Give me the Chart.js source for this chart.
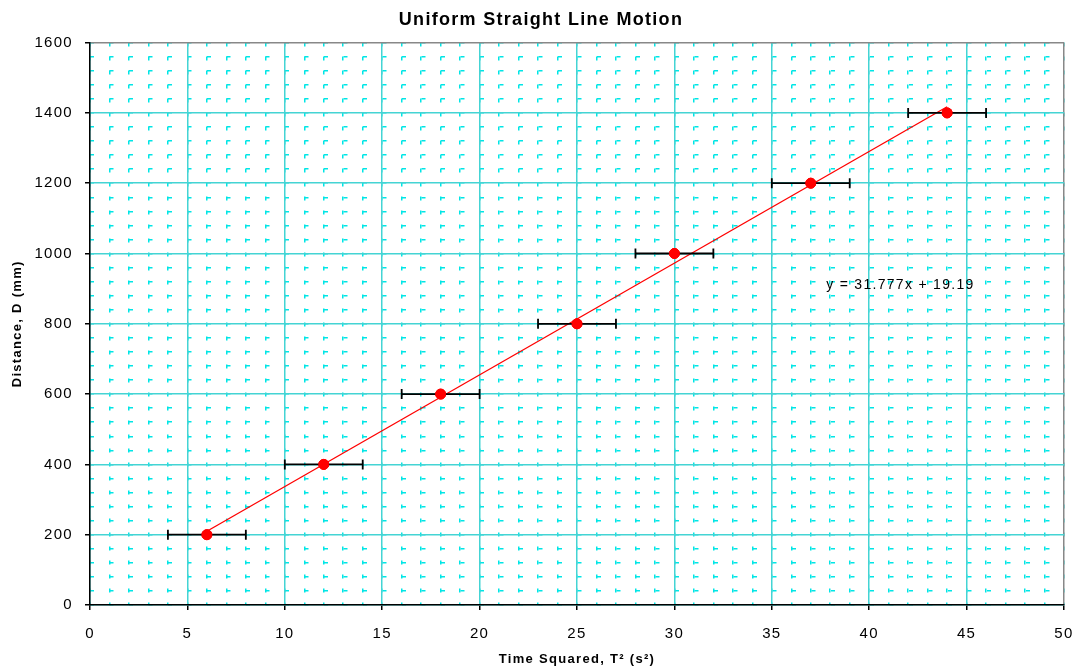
<!DOCTYPE html>
<html><head><meta charset="utf-8">
<script src="https://cdn.jsdelivr.net/npm/chart.js@4/dist/chart.umd.min.js"></script>
<style>html,body{margin:0;padding:0;background:#fff}#wrap{width:1075px;height:671px}</style>
</head><body><div id="wrap"><canvas id="c" width="1075" height="671"></canvas></div>
<script>
const timeSquared = [6, 12, 18, 25, 30, 37, 44];
const distance = [200, 400, 600, 800, 1000, 1200, 1400];
const xError = [2, 2, 2, 2, 2, 2, 2];
const slope = 31.777;
const intercept = 19.19;
const trendX = [6, 44];
const equationText = 'y = 31.777x + 19.19';
const equationPos = [41.6, 910];

const FONT = 'Liberation Sans, Arial, sans-serif';
const CYAN = '#44d4d4';
const MINOR = '#00e6e6';

const points = timeSquared.map((x, i) => ({x, y: distance[i]}));
const trend = trendX.map(x => ({x, y: slope * x + intercept}));

const spacing = {
  id: 'spacing',
  beforeDraw(chart) { chart.ctx.letterSpacing = '1.3px'; }
};

const errorBars = {
  id: 'errorBars',
  afterDatasetsDraw(chart) {
    const ctx = chart.ctx, xs = chart.scales.x, ys = chart.scales.y;
    ctx.save();
    ctx.strokeStyle = '#000'; ctx.lineWidth = 1.8;
    timeSquared.forEach((x, i) => {
      const y = ys.getPixelForValue(distance[i]);
      const x1 = xs.getPixelForValue(x - xError[i]), x2 = xs.getPixelForValue(x + xError[i]);
      ctx.beginPath();
      ctx.moveTo(x1, y); ctx.lineTo(x2, y);
      ctx.moveTo(x1, y - 5); ctx.lineTo(x1, y + 5);
      ctx.moveTo(x2, y - 5); ctx.lineTo(x2, y + 5);
      ctx.stroke();
    });
    const meta = chart.getDatasetMeta(1);
    meta.data.forEach(el => el.draw(ctx, chart.chartArea));
    ctx.fillStyle = '#000';
    ctx.font = '14px ' + FONT;
    ctx.textAlign = 'center'; ctx.textBaseline = 'middle';
    ctx.fillText(equationText, xs.getPixelForValue(equationPos[0]), ys.getPixelForValue(equationPos[1]));
    ctx.restore();
  }
};

new Chart(document.getElementById('c'), {
  type: 'scatter',
  data: {
    datasets: [
      {type: 'line', data: trend, borderColor: '#ff0000', borderWidth: 1.3, pointRadius: 0, fill: false, order: 2},
      {data: points, backgroundColor: '#ff0000', borderColor: '#ff0000', pointRadius: 5, pointHoverRadius: 5, order: 1}
    ]
  },
  plugins: [spacing, errorBars],
  options: {
    responsive: false, animation: false,
    layout: {padding: {left: 7, right: 0, top: 0, bottom: 0}},
    plugins: {
      legend: {display: false}, tooltip: {enabled: false},
      title: {display: true, text: 'Uniform Straight Line Motion', color: '#000',
        font: {family: FONT, size: 18, weight: 'bold'}, padding: {top: 9, bottom: 12}}
    },
    scales: {
      x2: {type: 'linear', position: 'bottom', min: 0, max: 50, z: -1,
        ticks: {display: false, stepSize: 1}, border: {display: false, dash: [4, 10]},
        grid: {color: MINOR, lineWidth: 1.5, drawTicks: false},
        afterFit: s => { s.height = 0; s.paddingLeft = 0; s.paddingRight = 11; }},
      y2: {type: 'linear', position: 'left', min: 0, max: 1600, z: -1,
        ticks: {display: false, stepSize: 40}, border: {display: false, dash: [4, 15.5]},
        grid: {color: MINOR, lineWidth: 1.5, drawTicks: false},
        afterFit: s => { s.width = 0; s.paddingTop = 0; s.paddingBottom = 0; }},
      x: {type: 'linear', min: 0, max: 50,
        ticks: {stepSize: 5, color: '#000', font: {family: FONT, size: 15}, padding: 15, maxRotation: 0},
        grid: {color: c => c.tick && c.tick.value === 50 ? '#888' : CYAN, lineWidth: 1.5, tickColor: '#000', tickLength: 5},
        border: {color: '#000', width: 1.5},
        title: {display: true, text: 'Time Squared, T² (s²)', color: '#000', font: {family: FONT, size: 13, weight: 'bold'}, padding: {top: 6, bottom: 4}},
        afterFit: s => { s.height = 66; s.paddingLeft = 0; s.paddingRight = 11; }},
      y: {type: 'linear', min: 0, max: 1600,
        ticks: {stepSize: 200, color: '#000', font: {family: FONT, size: 15}, padding: 12, callback: v => String(v)},
        grid: {color: c => c.tick && c.tick.value === 1600 ? '#888' : CYAN, lineWidth: 1.5, tickColor: '#000', tickLength: 5},
        border: {color: '#000', width: 1.5},
        title: {display: true, text: 'Distance, D (mm)', color: '#000', font: {family: FONT, size: 13, weight: 'bold'}, padding: {top: 3, bottom: 4}},
        afterFit: s => { s.width = 83; s.paddingTop = 0; s.paddingBottom = 0; }}
    }
  }
});
</script></body></html>
